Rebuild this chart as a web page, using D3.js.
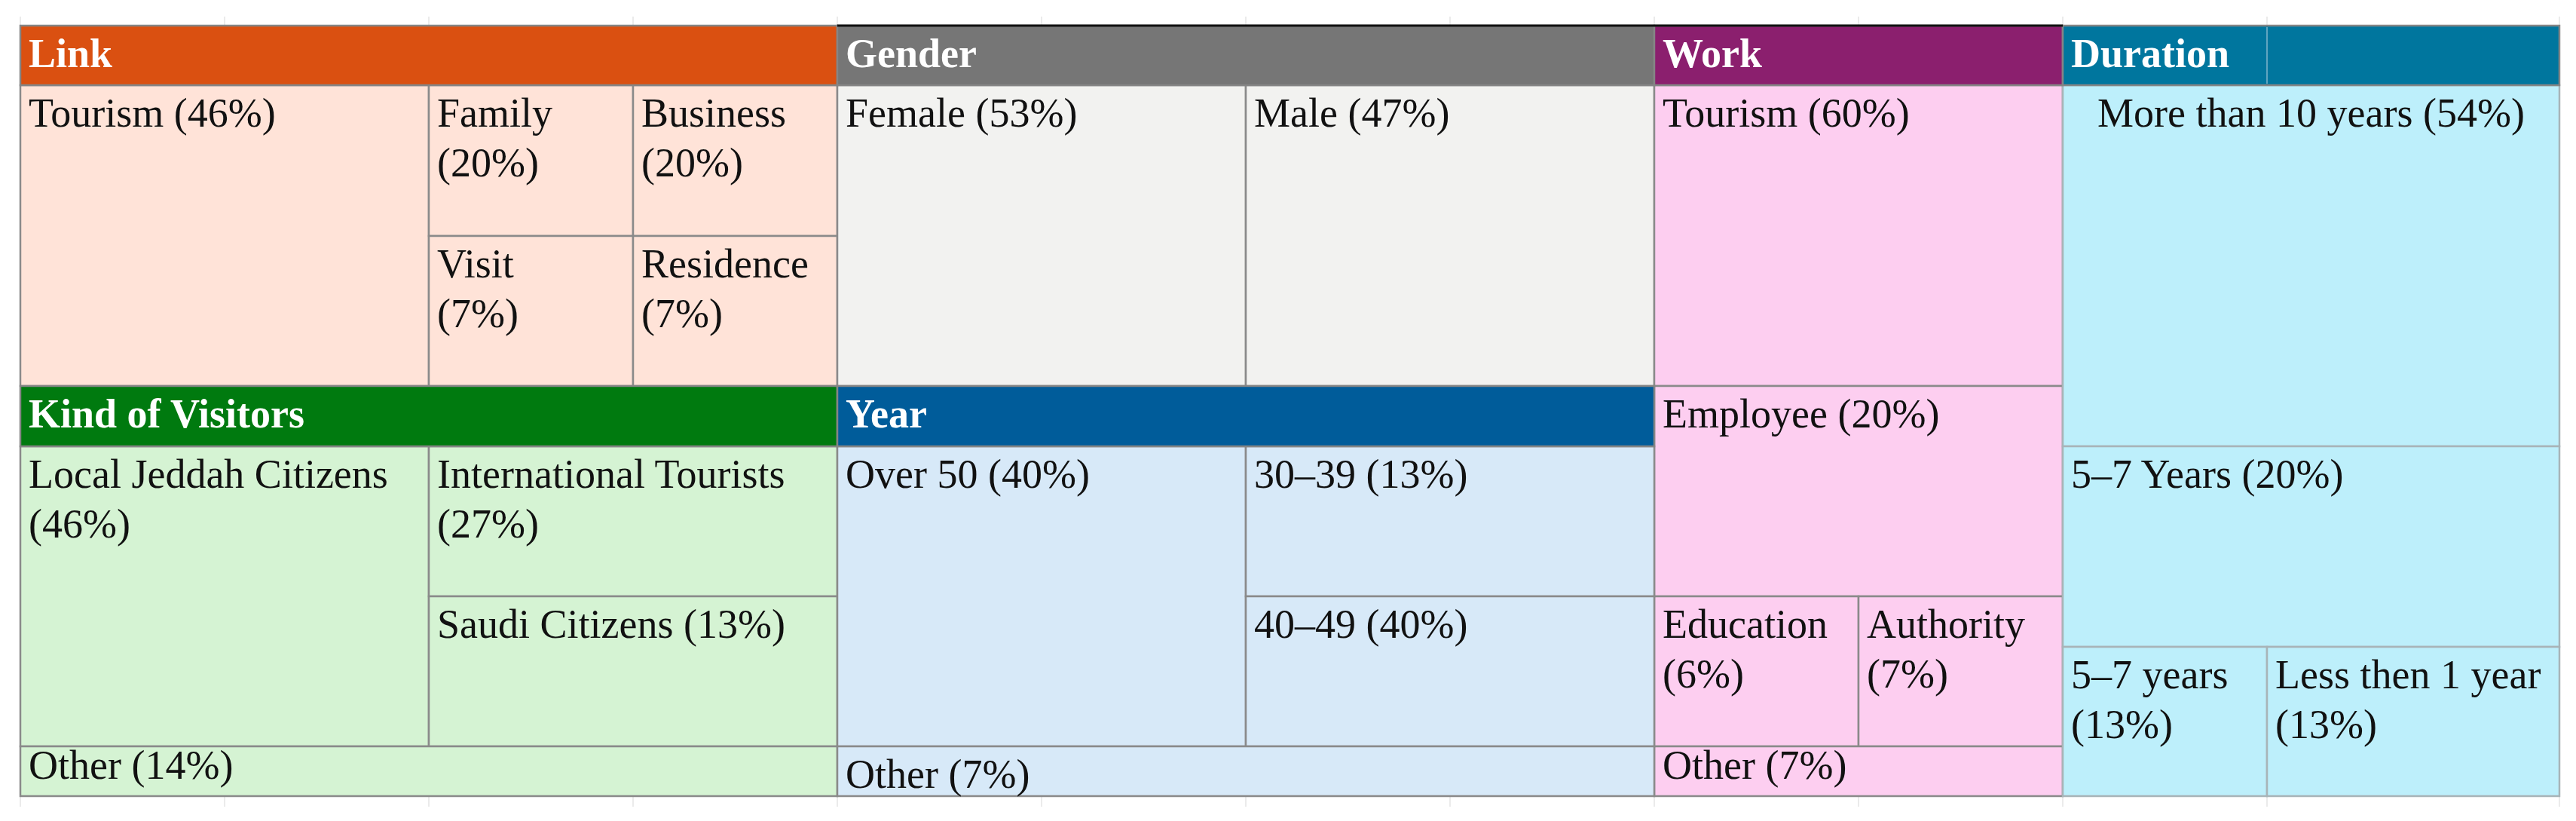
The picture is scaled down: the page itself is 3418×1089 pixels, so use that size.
<!DOCTYPE html>
<html>
<head>
<meta charset="utf-8">
<script src="https://cdn.jsdelivr.net/npm/d3@7"></script>
<style>
  body { margin: 0; background: #fff; }
  svg { display: block; }
</style>
</head>
<body>
<script>
// data
const groups = ["Link", "Gender", "Work", "Duration", "Kind of Visitors", "Year"];

const linkLabels = ["Tourism", "Family", "Business", "Visit", "Residence"];
const linkValues = [46, 20, 20, 7, 7];

const genderLabels = ["Female", "Male"];
const genderValues = [53, 47];

const workLabels = ["Tourism", "Employee", "Education", "Authority", "Other"];
const workValues = [60, 20, 6, 7, 7];

const durationLabels = ["More than 10 years", "5–7 Years", "5–7 years", "Less then 1 year"];
const durationValues = [54, 20, 13, 13];

const visitorLabels = ["Local Jeddah Citizens", "International Tourists", "Saudi Citizens", "Other"];
const visitorValues = [46, 27, 13, 14];

const yearLabels = ["Over 50", "30–39", "40–49", "Other"];
const yearValues = [40, 13, 40, 7];

const labelsByGroup = [linkLabels, genderLabels, workLabels, durationLabels, visitorLabels, yearLabels];
const valuesByGroup = [linkValues, genderValues, workValues, durationValues, visitorValues, yearValues];

// layout: grid spans [c0, c1, r0, r1] in column / row units
const headerSpans = [[0, 4, 0, 1], [4, 8, 0, 1], [8, 10, 0, 1], [10, 12, 0, 1], [0, 4, 3, 4], [4, 8, 3, 4]];
const cellSpans = [
    [[0, 2, 1, 3], [2, 3, 1, 2], [3, 4, 1, 2], [2, 3, 2, 3], [3, 4, 2, 3]],
    [[4, 6, 1, 3], [6, 8, 1, 3]],
    [[8, 10, 1, 3], [8, 10, 3, 5], [8, 9, 5, 7], [9, 10, 5, 7], [8, 10, 7, 8]],
    [[10, 12, 1, 4], [10, 12, 4, 6], [10, 11, 6, 8], [11, 12, 6, 8]],
    [[0, 2, 4, 7], [2, 4, 4, 5], [2, 4, 5, 7], [0, 4, 7, 8]],
    [[4, 6, 4, 7], [6, 8, 4, 5], [6, 8, 5, 7], [4, 8, 7, 8]]
];

const headerColors = ["#da5011", "#767676", "#8b1f6e", "#00769e", "#007a0f", "#005c9a"];
const bodyColors = ["#ffe3d8", "#f2f2f0", "#fdcef0", "#bdeffb", "#d5f3d3", "#d7e9f8"];

const width = 3418;
const height = 1089;

const x = d3.scaleLinear()
    .domain(d3.range(13))
    .range([27, 298, 569, 840, 1111, 1382, 1653, 1924, 2195, 2466, 2737, 3008, 3396]);

const y = d3.scaleLinear()
    .domain(d3.range(9))
    .range([34, 113, 313, 512, 592, 791, 858, 990, 1056]);

const svg = d3.select("body")
    .append("svg")
    .attr("width", width)
    .attr("height", height)
    .style("font-family", "'Liberation Serif', 'Times New Roman', serif");

// faint spreadsheet gridlines outside the table
svg.append("g")
    .selectAll("line")
    .data(d3.range(13))
    .join("line")
    .attr("x1", (d) => x(d)).attr("x2", (d) => x(d))
    .attr("y1", y(0) - 12).attr("y2", y(8) + 14)
    .attr("stroke", "#e4e4e4")
    .attr("stroke-width", 1.5);

const cells = [];
groups.forEach((g, gi) => {
    labelsByGroup[gi].forEach((label, i) => {
        cells.push({ group: gi, label, value: valuesByGroup[gi][i], span: cellSpans[gi][i] });
    });
});

const cellG = svg.append("g")
    .selectAll("g")
    .data(cells)
    .join("g")
    .attr("transform", (d) => `translate(${x(d.span[0])},${y(d.span[2])})`);

cellG.append("rect")
    .attr("width", (d) => x(d.span[1]) - x(d.span[0]))
    .attr("height", (d) => y(d.span[3]) - y(d.span[2]))
    .attr("fill", (d) => bodyColors[d.group])
    .attr("stroke", (d) => d.group === 3 ? "#a8b4b8" : "#8a8a8a")
    .attr("stroke-width", 2.5);

cellG.each(function (d) {
    const g = d3.select(this);
    const w = x(d.span[1]) - x(d.span[0]);
    const h = y(d.span[3]) - y(d.span[2]);
    const centered = d.group === 3 && d.span[2] === 1;
    const shortRow = h < 100;
    const top = shortRow && d.group !== 5 ? 43 : 55;
    const text = g.append("text")
        .attr("y", top)
        .attr("font-size", 54)
        .attr("fill", "#111");
    const full = `${d.label} (${d.value}%)`;
    text.text(full);
    const tooWide = text.node().getComputedTextLength() > w - 22;
    if (d.span[1] - d.span[0] === 1 || tooWide) {
        text.text(null);
        text.append("tspan").attr("x", 11).text(d.label);
        text.append("tspan").attr("x", 11).attr("dy", 66).text(`(${d.value}%)`);
    } else if (centered) {
        text.attr("x", w / 2).attr("text-anchor", "middle");
    } else {
        text.attr("x", 11);
    }
});

// group headers
const headG = svg.append("g")
    .selectAll("g")
    .data(groups)
    .join("g")
    .attr("transform", (d, i) => `translate(${x(headerSpans[i][0])},${y(headerSpans[i][2])})`);

headG.append("rect")
    .attr("width", (d, i) => x(headerSpans[i][1]) - x(headerSpans[i][0]))
    .attr("height", (d, i) => y(headerSpans[i][3]) - y(headerSpans[i][2]))
    .attr("fill", (d, i) => headerColors[i])
    .attr("stroke", "#858585")
    .attr("stroke-width", 2.5);

headG.append("text")
    .attr("x", 11)
    .attr("y", 55)
    .attr("font-size", 54)
    .attr("font-weight", "bold")
    .attr("fill", "#fff")
    .text((d) => d);

// thin divider inside the Duration header
svg.append("line")
    .attr("x1", x(11)).attr("x2", x(11))
    .attr("y1", y(0) + 2).attr("y2", y(1) - 2)
    .attr("stroke", "#7fb6cb")
    .attr("stroke-width", 1.5);

// dark top rule over Gender and Work
svg.append("line")
    .attr("x1", x(4)).attr("x2", x(10))
    .attr("y1", y(0)).attr("y2", y(0))
    .attr("stroke", "#111")
    .attr("stroke-width", 3);
</script>
</body>
</html>
